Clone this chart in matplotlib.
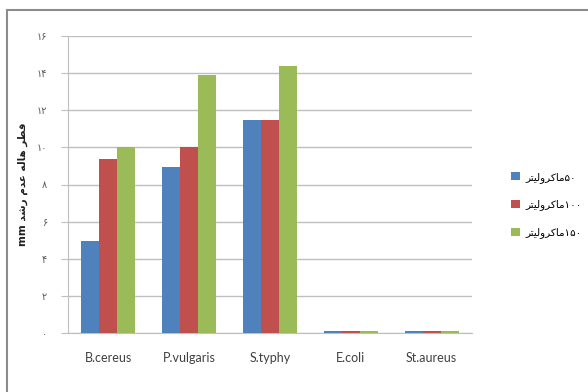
import numpy as np
import matplotlib
matplotlib.use("Agg")
import matplotlib.pyplot as plt
from matplotlib.patches import Rectangle

# data
bacteria = ["B.cereus", "P.vulgaris", "S.typhy", "E.coli", "St.aureus"]
vol_50 = [4.95, 8.95, 11.5, 0.1, 0.1]
vol_100 = [9.4, 10.0, 11.5, 0.1, 0.1]
vol_150 = [10.0, 13.9, 14.4, 0.1, 0.1]
series_labels = ["۵۰ماکرولیتر", "۱۰۰ماکرولیتر", "۱۵۰ماکرولیتر"]
ytick_vals = [0, 2, 4, 6, 8, 10, 12, 14, 16]
ytick_text = ["۰", "۲", "۴", "۶", "۸", "۱۰", "۱۲", "۱۴", "۱۶"]
ylabel_text = "قطر هاله عدم رشد mm"

# minimal arabic shaping: (isolated, final, initial, medial); None = does not join forward
FORMS = {
    "ا": ("\uFE8D", "\uFE8E", None, None),
    "ت": ("\uFE95", "\uFE96", "\uFE97", "\uFE98"),
    "د": ("\uFEA9", "\uFEAA", None, None),
    "ر": ("\uFEAD", "\uFEAE", None, None),
    "ش": ("\uFEB5", "\uFEB6", "\uFEB7", "\uFEB8"),
    "ط": ("\uFEC1", "\uFEC2", "\uFEC3", "\uFEC4"),
    "ع": ("\uFEC9", "\uFECA", "\uFECB", "\uFECC"),
    "ق": ("\uFED5", "\uFED6", "\uFED7", "\uFED8"),
    "ل": ("\uFEDD", "\uFEDE", "\uFEDF", "\uFEE0"),
    "م": ("\uFEE1", "\uFEE2", "\uFEE3", "\uFEE4"),
    "ه": ("\uFEE9", "\uFEEA", "\uFEEB", "\uFEEC"),
    "و": ("\uFEED", "\uFEEE", None, None),
    "ک": ("\uFB8E", "\uFB8F", "\uFB90", "\uFB91"),
    "ی": ("\uFBFC", "\uFBFD", "\uFBFE", "\uFBFF"),
}


def shape_word(word):
    out = []
    for i, ch in enumerate(word):
        if ch not in FORMS:
            out.append(ch)
            continue
        prev = word[i - 1] if i > 0 else None
        nxt = word[i + 1] if i + 1 < len(word) else None
        joins_prev = prev in FORMS and FORMS[prev][2] is not None
        joins_next = nxt in FORMS and FORMS[ch][2] is not None
        iso, fin, ini, med = FORMS[ch]
        if joins_prev and joins_next:
            out.append(med)
        elif joins_prev:
            out.append(fin)
        elif joins_next:
            out.append(ini)
        else:
            out.append(iso)
    return "".join(out)


def visual(text):
    # arabic words reversed into visual order, latin part kept apart
    parts = text.split(" ")
    arabic = [p for p in parts if p and p[0] in FORMS]
    other = [p for p in parts if p and p[0] not in FORMS]
    ar = " ".join(arabic)
    return shape_word(ar)[::-1], " ".join(other)


def legend_label(s):
    digits = "".join(c for c in s if c not in FORMS)
    word = "".join(c for c in s if c in FORMS)
    return shape_word(word)[::-1] + digits


colors = ["#4F81BD", "#C0504D", "#9BBB59"]
grid_col = "#BFBFBF"
text_col = "#404040"

fig = plt.figure(figsize=(5.88, 3.92), dpi=100)
fig.patch.set_facecolor("white")
fig.patches.append(Rectangle((7 / 588, -0.1), 1.2, 1.1 - 10 / 392,
                             transform=fig.transFigure, fill=False,
                             edgecolor="#8C8C8C", linewidth=1.5))

ax = fig.add_axes([68 / 588, 59 / 392, 404 / 588, 297 / 392])

x = np.arange(len(bacteria))
w = 0.223
for k, vals in enumerate([vol_50, vol_100, vol_150]):
    ax.bar(x + (k - 1) * w, vals, width=w, color=colors[k],
           label=legend_label(series_labels[k]), zorder=3)

ax.set_xlim(-0.5, len(bacteria) - 0.5)
ax.set_ylim(0, 16)
ax.set_yticks(ytick_vals)
ax.set_yticklabels(ytick_text, fontsize=7, color="#595959", family="DejaVu Sans")
ax.set_xticks(x)
ax.set_xticklabels(bacteria, fontsize=9, color=text_col, family="Lato")
ax.tick_params(axis="x", length=0, pad=14)
ax.tick_params(axis="y", length=5, color=grid_col, pad=10)
ax.grid(axis="y", color=grid_col, linewidth=1.0, zorder=0)
for side in ["top", "right"]:
    ax.spines[side].set_visible(False)
ax.spines["left"].set_color(grid_col)
ax.spines["bottom"].set_color(grid_col)

ar_vis, tail = visual(ylabel_text)
ax.set_ylabel(tail + " " + ar_vis, fontsize=7.5, fontweight="bold",
              color="#202020", family="DejaVu Sans", labelpad=10)
ax.yaxis.set_label_coords(-40 / 404, 0.5)

handles, labels = ax.get_legend_handles_labels()
fig.legend(handles, labels, loc="center left", bbox_to_anchor=(502 / 588, (392 - 205) / 392),
           bbox_transform=fig.transFigure, frameon=False,
           handlelength=0.8, handleheight=0.8, handletextpad=0.5, labelspacing=1.6,
           prop={"family": "DejaVu Sans", "size": 7.5})

fig.savefig("out.png", dpi=100)
